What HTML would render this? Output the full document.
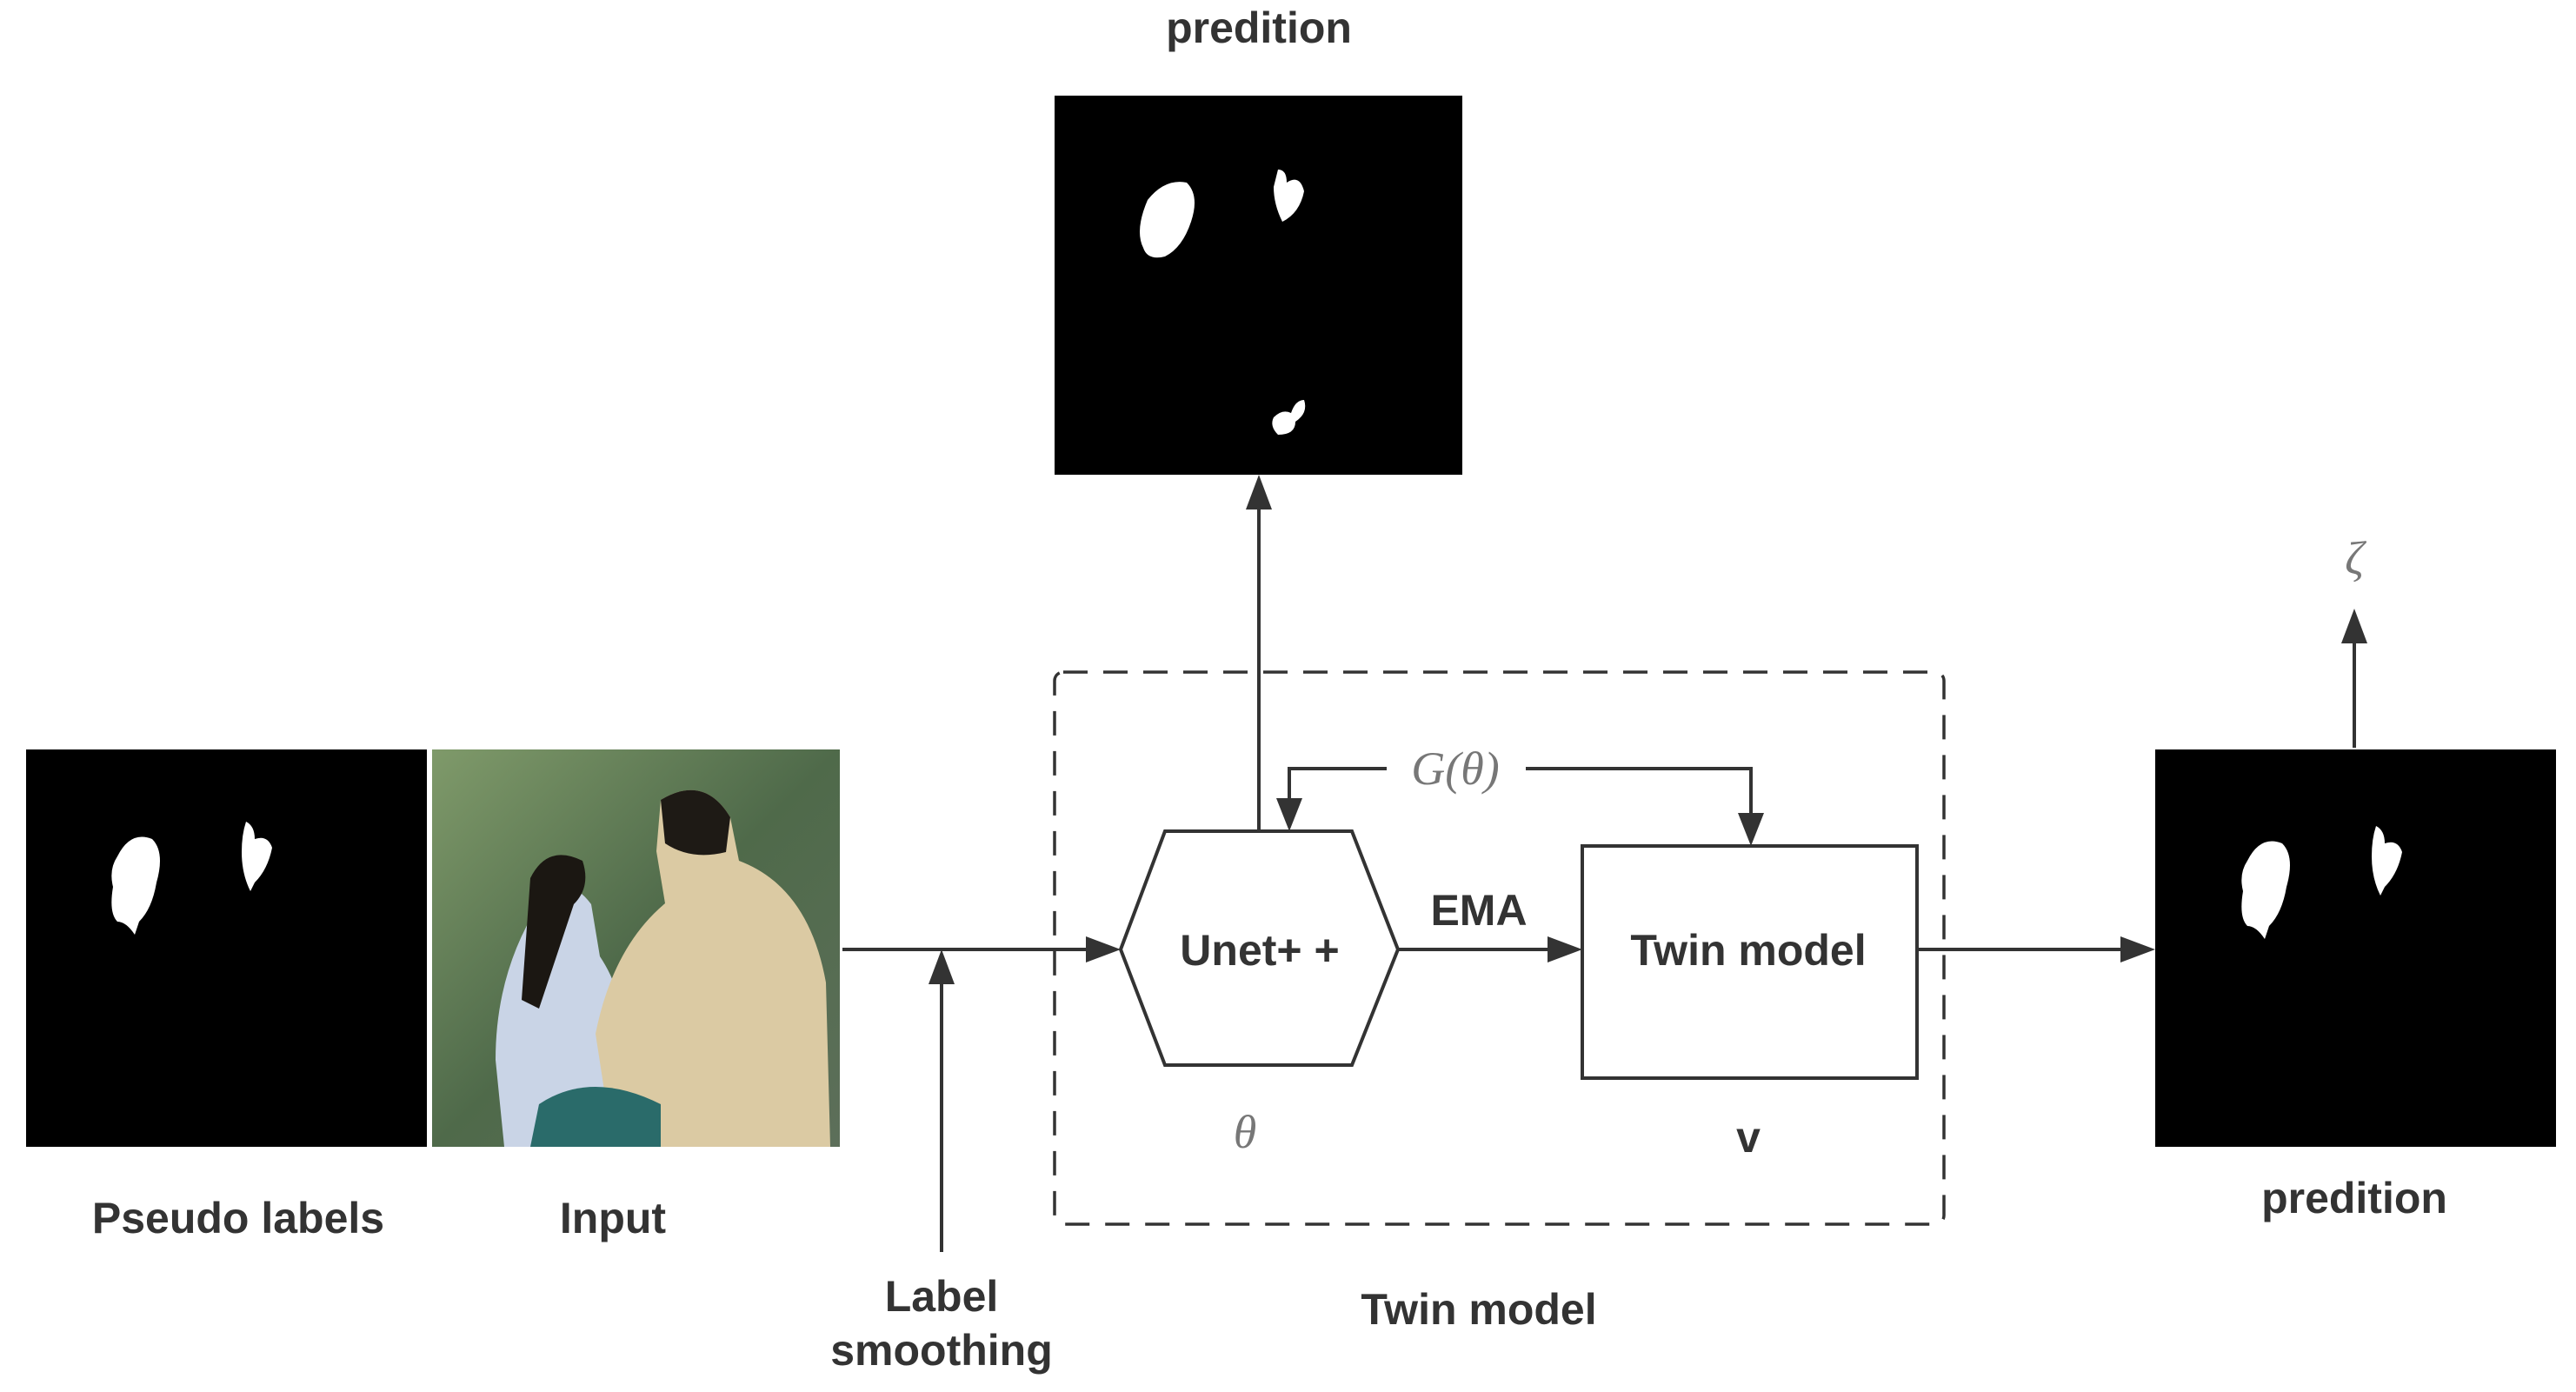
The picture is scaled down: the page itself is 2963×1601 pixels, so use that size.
<!DOCTYPE html>
<html><head><meta charset="utf-8"><style>
html,body{margin:0;padding:0;background:#fff;}
body{width:2963px;height:1601px;overflow:hidden;position:relative;}
svg{position:absolute;left:0;top:0;}
.t{font-family:"Liberation Sans",sans-serif;font-weight:bold;fill:#333;font-size:50px;text-anchor:middle;}
.m{font-family:"Liberation Serif",serif;font-style:italic;fill:#777;font-size:54px;text-anchor:middle;}
</style></head><body>
<svg width="2963" height="1601" viewBox="0 0 2963 1601">
<defs>
<linearGradient id="bg" x1="0" y1="0" x2="1" y2="1">
<stop offset="0" stop-color="#7f9a6a"/><stop offset="0.5" stop-color="#4f6a4a"/><stop offset="1" stop-color="#5d6f5a"/></linearGradient>
</defs>
<rect x="30" y="862" width="461" height="457" fill="#000"/>
<path d="M135,985 q15,-30 40,-20 q15,15 5,50 q-5,30 -20,45 l-5,15 q-10,-15 -20,-15 q-10,-10 -5,-40 q-5,-20 5,-35z" fill="#fff"/>
<path d="M283,945 q10,5 10,20 q15,-5 20,10 q-5,25 -20,40 l-5,10 q-10,-20 -10,-45 q0,-20 5,-35z" fill="#fff"/>
<rect x="497" y="862" width="469" height="457" fill="url(#bg)"/>
<path d="M620,1040 q30,-40 60,0 l10,60 q40,60 20,140 l-10,79 h-120 l-10,-100 q0,-100 50,-179z" fill="#c9d4e6"/>
<path d="M610,1010 q20,-40 60,-20 q10,30 -10,50 l-40,120 -20,-10z" fill="#1b1712"/>
<path d="M760,920 q50,-30 80,20 l10,50 q80,30 100,140 l5,189 h-250 l-20,-130 q20,-100 80,-150 l-10,-60z" fill="#dbcaa3"/>
<path d="M760,920 q50,-30 80,20 l-5,40 q-40,10 -70,-10z" fill="#1e1a15"/>
<path d="M620,1270 q60,-40 140,0 l0,49 h-150z" fill="#2a6b6a"/>
<rect x="1213" y="110" width="469" height="436" fill="#000"/>
<path d="M1320,230 q20,-25 45,-20 q15,15 5,45 q-10,30 -30,40 q-20,5 -25,-10 q-10,-20 5,-55z" fill="#fff"/>
<path d="M1470,195 q10,0 10,15 q15,-10 20,10 q-5,25 -25,35 q-10,-20 -10,-40z" fill="#fff"/>
<path d="M1465,480 q10,-10 20,-5 q5,-15 15,-15 q5,15 -10,25 q0,15 -20,15 q-10,-10 -5,-20z" fill="#fff"/>
<rect x="2479" y="862" width="461" height="457" fill="#000"/>
<path d="M2585,990 q15,-30 40,-20 q15,15 5,50 q-5,30 -20,45 l-5,15 q-10,-15 -20,-15 q-10,-10 -5,-40 q-5,-20 5,-35z" fill="#fff"/>
<path d="M2733,950 q10,5 10,20 q15,-5 20,10 q-5,25 -20,40 l-5,10 q-10,-20 -10,-45 q0,-20 5,-35z" fill="#fff"/>
<rect x="1213" y="773" width="1023" height="635" rx="10" fill="none" stroke="#333" stroke-width="3.5" stroke-dasharray="28,18"/>
<polygon points="1289,1092 1340,956 1555,956 1608,1092 1555,1225 1340,1225" fill="#fff" stroke="#333" stroke-width="4"/>
<rect x="1820" y="973" width="385" height="267" fill="#fff" stroke="#333" stroke-width="4"/>
<g stroke="#333" stroke-width="4" fill="none">
<line x1="969" y1="1092" x2="1255" y2="1092"/>
<line x1="1083" y1="1440" x2="1083" y2="1125"/>
<line x1="1448" y1="956" x2="1448" y2="580"/>
<line x1="1608" y1="1092" x2="1786" y2="1092"/>
<line x1="2205" y1="1092" x2="2445" y2="1092"/>
<line x1="2708" y1="860" x2="2708" y2="734"/>
<polyline points="1595,884 1483,884 1483,922"/>
<polyline points="1755,884 2014,884 2014,939"/>
</g>
<g fill="#333">
<polygon points="1289,1092 1249,1077 1249,1107"/>
<polygon points="1083,1092 1068,1132 1098,1132"/>
<polygon points="1448,546 1433,586 1463,586"/>
<polygon points="1820,1092 1780,1077 1780,1107"/>
<polygon points="2479,1092 2439,1077 2439,1107"/>
<polygon points="2708,700 2693,740 2723,740"/>
<polygon points="1483,956 1468,918 1498,918"/>
<polygon points="2014,973 1999,935 2029,935"/>
</g>
<text class="t" x="1448" y="49">predition</text>
<text class="t" x="1449" y="1110">Unet+ +</text>
<text class="t" x="2011" y="1110">Twin model</text>
<text class="t" x="1701" y="1064">EMA</text>
<text class="t" x="2011" y="1325">v</text>
<text class="t" x="274" y="1418">Pseudo labels</text>
<text class="t" x="705" y="1418">Input</text>
<text class="t" x="1083" y="1508">Label</text>
<text class="t" x="1083" y="1570">smoothing</text>
<text class="t" x="1701" y="1523">Twin model</text>
<text class="t" x="2708" y="1395">predition</text>
<text class="m" x="1674" y="902">G(θ)</text>
<text class="m" x="1432" y="1320">θ</text>
<text class="m" x="2708" y="660">ζ</text>
</svg>
</body></html>
